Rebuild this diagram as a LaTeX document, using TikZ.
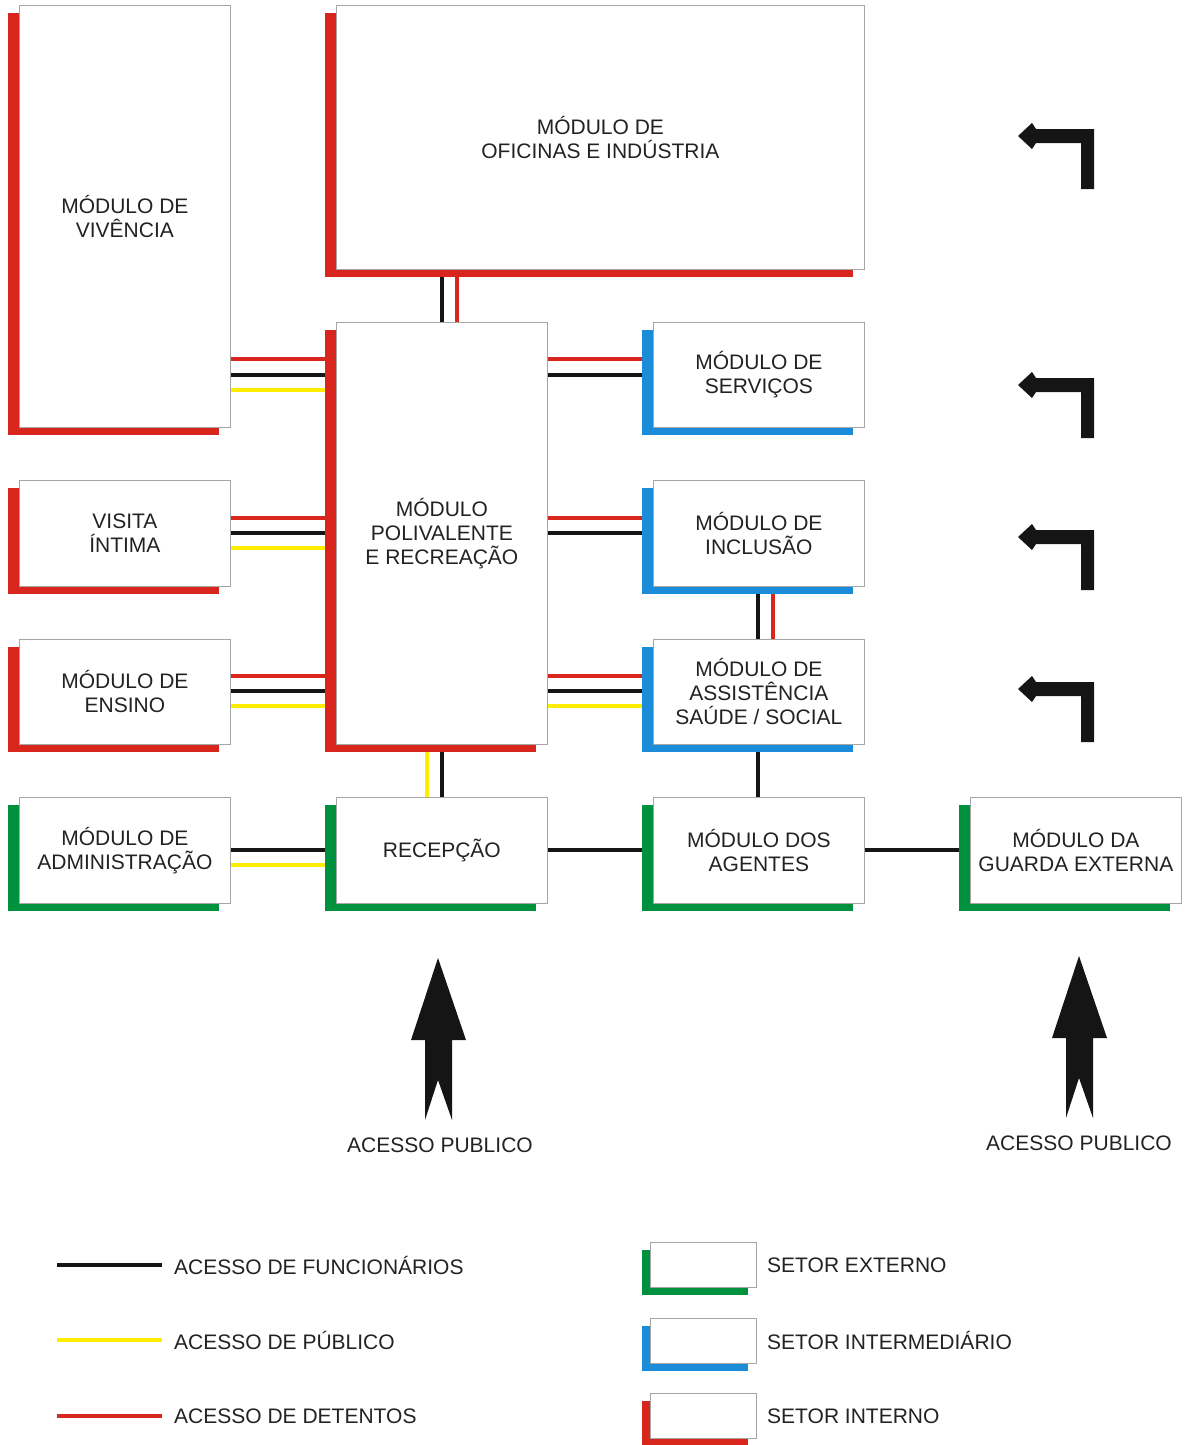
\documentclass[tikz,border=0pt]{standalone}
\usepackage{fontspec}
\setmainfont{Liberation Sans}
\usetikzlibrary{shadows}
\definecolor{cred}{HTML}{D9261C}
\definecolor{cblue}{HTML}{1A8CD8}
\definecolor{cgreen}{HTML}{00913F}
\definecolor{cyellow}{HTML}{FFED00}
\definecolor{cblack}{HTML}{151515}
\definecolor{ctext}{HTML}{222222}
\pgfdeclarelayer{bg}
\pgfsetlayers{bg,main}
\tikzset{
  box/.style={draw=gray!70, line width=0.8pt, fill=white, inner sep=0pt, anchor=north west,
    align=center, text=ctext, font=\fontsize{21}{24}\selectfont},
  sh/.style={general shadow={fill=#1, shadow xshift=-11pt, shadow yshift=-8pt}},
  lsh/.style={general shadow={fill=#1, shadow xshift=-8pt, shadow yshift=-8pt}},
  conn/.style={line width=4pt, draw=#1},
  lab/.style={text=ctext, font=\fontsize{21}{24}\selectfont, inner sep=0pt},
}
\begin{document}
\begin{tikzpicture}[x=1pt,y=-1pt]
\useasboundingbox (0,0) rectangle (1187,1445);
% boxes
\node[box, sh=cred, minimum width=211pt, minimum height=422pt] (viv) at (19,5) {MÓDULO DE\\VIVÊNCIA};
\node[box, sh=cred, minimum width=528pt, minimum height=264pt] (ofi) at (336,5) {MÓDULO DE\\OFICINAS E INDÚSTRIA};
\node[box, sh=cred, minimum width=211pt, minimum height=422pt] (poli) at (336,322) {MÓDULO\\POLIVALENTE\\E RECREAÇÃO};
\node[box, sh=cblue, minimum width=211pt, minimum height=105pt] (serv) at (653,322) {MÓDULO DE\\SERVIÇOS};
\node[box, sh=cred, minimum width=211pt, minimum height=106pt] (vis) at (19,480) {VISITA\\ÍNTIMA};
\node[box, sh=cblue, minimum width=211pt, minimum height=106pt] (incl) at (653,480) {MÓDULO DE\\INCLUSÃO};
\node[box, sh=cred, minimum width=211pt, minimum height=105pt] (ens) at (19,639) {MÓDULO DE\\ENSINO};
\node[box, sh=cblue, minimum width=211pt, minimum height=105pt] (assist) at (653,639) {MÓDULO DE\\ASSISTÊNCIA\\SAÚDE / SOCIAL};
\node[box, sh=cgreen, minimum width=211pt, minimum height=106pt] (adm) at (19,797) {MÓDULO DE\\ADMINISTRAÇÃO};
\node[box, sh=cgreen, minimum width=211pt, minimum height=106pt] (rec) at (336,797) {RECEPÇÃO};
\node[box, sh=cgreen, minimum width=211pt, minimum height=106pt] (ag) at (653,797) {MÓDULO DOS\\AGENTES};
\node[box, sh=cgreen, minimum width=211pt, minimum height=106pt] (guarda) at (970,797) {MÓDULO DA\\GUARDA EXTERNA};
% connectors
\begin{pgfonlayer}{bg}
\draw[conn=cred] (viv.east |- 0,359) -- (poli.west |- 0,359);
\draw[conn=cblack] (viv.east |- 0,375) -- (poli.west |- 0,375);
\draw[conn=cyellow] (viv.east |- 0,390) -- (poli.west |- 0,390);
\draw[conn=cred] (poli.east |- 0,359) -- (serv.west |- 0,359);
\draw[conn=cblack] (poli.east |- 0,375) -- (serv.west |- 0,375);
\draw[conn=cred] (vis.east |- 0,518) -- (poli.west |- 0,518);
\draw[conn=cblack] (vis.east |- 0,533) -- (poli.west |- 0,533);
\draw[conn=cyellow] (vis.east |- 0,548) -- (poli.west |- 0,548);
\draw[conn=cred] (poli.east |- 0,518) -- (incl.west |- 0,518);
\draw[conn=cblack] (poli.east |- 0,533) -- (incl.west |- 0,533);
\draw[conn=cred] (ens.east |- 0,676) -- (poli.west |- 0,676);
\draw[conn=cblack] (ens.east |- 0,691) -- (poli.west |- 0,691);
\draw[conn=cyellow] (ens.east |- 0,706) -- (poli.west |- 0,706);
\draw[conn=cred] (poli.east |- 0,676) -- (assist.west |- 0,676);
\draw[conn=cblack] (poli.east |- 0,691) -- (assist.west |- 0,691);
\draw[conn=cyellow] (poli.east |- 0,706) -- (assist.west |- 0,706);
\draw[conn=cblack] (ofi.south -| 442,0) -- (poli.north -| 442,0);
\draw[conn=cred] (ofi.south -| 457,0) -- (poli.north -| 457,0);
\draw[conn=cyellow] (poli.south -| 427,0) -- (rec.north -| 427,0);
\draw[conn=cblack] (poli.south -| 442,0) -- (rec.north -| 442,0);
\draw[conn=cblack] (incl.south -| 758,0) -- (assist.north -| 758,0);
\draw[conn=cred] (incl.south -| 773,0) -- (assist.north -| 773,0);
\draw[conn=cblack] (assist.south -| 758,0) -- (ag.north -| 758,0);
\draw[conn=cblack] (adm.east |- 0,850) -- (rec.west |- 0,850);
\draw[conn=cyellow] (adm.east |- 0,865) -- (rec.west |- 0,865);
\draw[conn=cblack] (rec.east |- 0,850) -- (ag.west |- 0,850);
\draw[conn=cblack] (ag.east |- 0,850) -- (guarda.west |- 0,850);
\end{pgfonlayer}
% turn arrows
\foreach \dy in {0,249,401,553}{
  \fill[cblack] (1018,136+\dy) -- (1032,123+\dy) -- (1036,129+\dy) -- (1094,129+\dy) -- (1094,189+\dy)
    -- (1081,189+\dy) -- (1081,143+\dy) -- (1036,143+\dy) -- (1032,149+\dy) -- cycle;
}
% big up arrows
\foreach \dx/\dy in {0/0,641/-2}{
  \fill[cblack] (438+\dx,958+\dy) -- (466+\dx,1040+\dy) -- (452+\dx,1040+\dy) -- (452+\dx,1120+\dy)
    -- (438+\dx,1080+\dy) -- (425+\dx,1120+\dy) -- (425+\dx,1040+\dy) -- (411+\dx,1040+\dy) -- cycle;
}
\node[lab] (ap1) at (440,1145) {ACESSO PUBLICO};
\node[lab] (ap2) at (1079,1143) {ACESSO PUBLICO};
% legend lines
\coordinate (l1a) at (57,1265); \coordinate (l1b) at (162,1265);
\coordinate (l2a) at (57,1340); \coordinate (l2b) at (162,1340);
\coordinate (l3a) at (57,1416); \coordinate (l3b) at (162,1416);
\draw[conn=cblack] (l1a) -- (l1b);
\draw[conn=cyellow] (l2a) -- (l2b);
\draw[conn=cred] (l3a) -- (l3b);
\node[lab, anchor=west] (t1) at (174,1265) {ACESSO DE FUNCIONÁRIOS};
\node[lab, anchor=west] (t2) at (174,1340) {ACESSO DE PÚBLICO};
\node[lab, anchor=west] (t3) at (174,1416) {ACESSO DE DETENTOS};
% legend boxes
\node[box, lsh=cgreen, minimum width=106pt, minimum height=45pt] (b1) at (650,1242) {};
\node[box, lsh=cblue, minimum width=106pt, minimum height=45pt] (b2) at (650,1318) {};
\node[box, lsh=cred, minimum width=106pt, minimum height=45pt] (b3) at (650,1393) {};
\node[lab, anchor=west] (s1) at (767,1265) {SETOR EXTERNO};
\node[lab, anchor=west] (s2) at (767,1340) {SETOR INTERMEDIÁRIO};
\node[lab, anchor=west] (s3) at (767,1416) {SETOR INTERNO};
\end{tikzpicture}
\end{document}
